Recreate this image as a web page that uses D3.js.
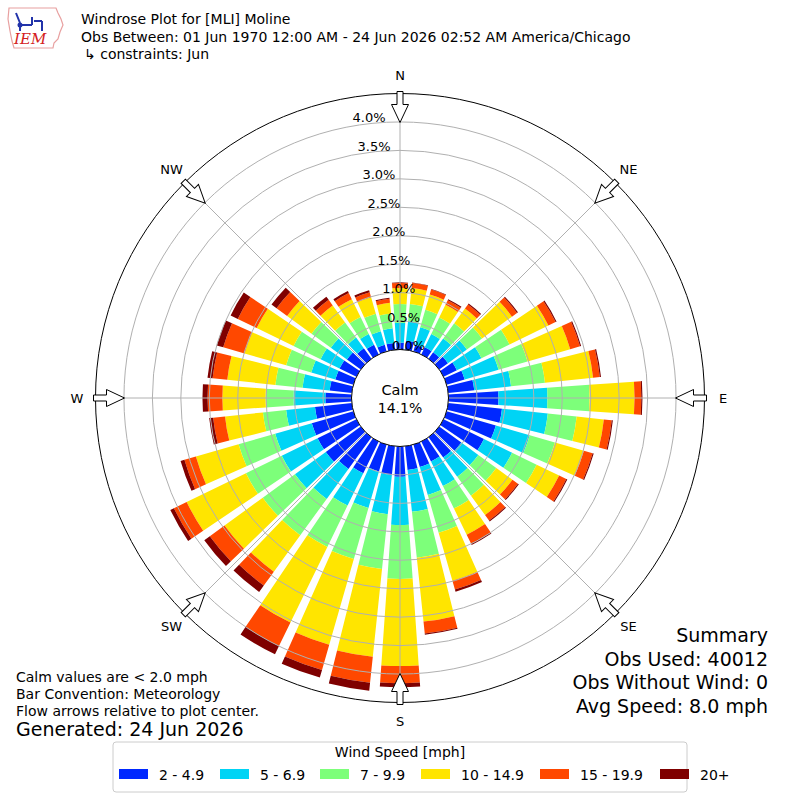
<!DOCTYPE html>
<html>
<head>
<meta charset="utf-8">
<script src="https://cdn.jsdelivr.net/npm/d3@7"></script>
<style>
  body { margin: 0; background: #fff; }
  text { font-family: "DejaVu Sans", sans-serif; fill: #000; }
</style>
</head>
<body>
<div id="rose"></div>
<script>
// wind directions (deg, where the wind comes from)
const directions = [0, 10, 20, 30, 40, 50, 60, 70, 80, 90, 100, 110, 120, 130, 140, 150, 160, 170,
  180, 190, 200, 210, 220, 230, 240, 250, 260, 270, 280, 290, 300, 310, 320, 330, 340, 350];

const speedBins = ["2 - 4.9", "5 - 6.9", "7 - 9.9", "10 - 14.9", "15 - 19.9", "20+"];
const binColors = ["#0028ff", "#00d4f5", "#7dff7a", "#ffe500", "#ff4800", "#7f0000"];

// frequency (%) per direction for each speed bin
const bin2to5 = [0.12, 0.16, 0.12, 0.14, 0.14, 0.19, 0.26, 0.33, 0.46, 0.88, 0.95, 0.90, 0.79, 0.48, 0.44, 0.39, 0.41, 0.42,
  0.53, 0.51, 0.49, 0.62, 0.69, 0.76, 0.76, 0.76, 0.65, 0.46, 0.39, 0.33, 0.33, 0.30, 0.23, 0.19, 0.12, 0.12];
const bin5to7 = [0.35, 0.35, 0.32, 0.26, 0.30, 0.41, 0.48, 0.62, 0.65, 0.86, 0.81, 0.62, 0.55, 0.37, 0.42, 0.48, 0.51, 0.74,
  0.85, 0.69, 0.67, 0.63, 0.65, 0.67, 0.70, 0.67, 0.51, 0.56, 0.48, 0.44, 0.37, 0.35, 0.23, 0.21, 0.25, 0.26];
const bin7to10 = [0.33, 0.30, 0.32, 0.32, 0.33, 0.33, 0.55, 0.53, 0.60, 0.74, 0.51, 0.46, 0.48, 0.39, 0.41, 0.44, 0.69, 0.81,
  0.95, 0.97, 0.93, 0.81, 0.79, 0.70, 0.70, 0.67, 0.41, 0.49, 0.48, 0.46, 0.53, 0.42, 0.33, 0.33, 0.32, 0.26];
const bin10to15 = [0.28, 0.28, 0.28, 0.25, 0.32, 0.65, 0.76, 0.78, 0.85, 0.79, 0.48, 0.53, 0.44, 0.35, 0.42, 0.51, 0.88, 1.13,
  1.53, 1.55, 1.57, 1.48, 0.79, 0.83, 1.16, 0.78, 0.67, 0.76, 0.85, 0.76, 0.72, 0.53, 0.37, 0.35, 0.30, 0.19];
const bin15to20 = [0.09, 0.09, 0.09, 0.09, 0.09, 0.11, 0.14, 0.18, 0.12, 0.12, 0.14, 0.16, 0.14, 0.12, 0.12, 0.18, 0.16, 0.21,
  0.30, 0.46, 0.46, 0.46, 0.30, 0.32, 0.25, 0.21, 0.21, 0.26, 0.26, 0.39, 0.37, 0.23, 0.12, 0.12, 0.09, 0.07];
const bin20plus = [0.01, 0.01, 0.01, 0.02, 0.02, 0.02, 0.02, 0.02, 0.02, 0.02, 0.02, 0.02, 0.02, 0.02, 0.02, 0.02, 0.04, 0.02,
  0.07, 0.14, 0.14, 0.16, 0.14, 0.12, 0.07, 0.07, 0.07, 0.09, 0.09, 0.12, 0.14, 0.11, 0.07, 0.04, 0.04, 0.02];

const ringTicks = [0, 0.5, 1, 1.5, 2, 2.5, 3, 3.5, 4];
const compass = ["N", "NE", "E", "SE", "S", "SW", "W", "NW"];
const calmPct = "14.1%";

const titleLines = ["Windrose Plot for [MLI] Moline",
  "Obs Between: 01 Jun 1970 12:00 AM - 24 Jun 2026 02:52 AM America/Chicago"];
const constraintLine = "\u21b3 constraints: Jun";
const noteLines = ["Calm values are < 2.0 mph", "Bar Convention: Meteorology", "Flow arrows relative to plot center."];
const generatedLine = "Generated: 24 Jun 2026";
const summaryLines = ["Summary", "Obs Used: 40012", "Obs Without Wind: 0", "Avg Speed: 8.0 mph"];

const width = 800, height = 800;
const cx = 400, cy = 398;
const calmR = 48.5, outerR = 304.5;

const svg = d3.select("#rose")
  .append("svg")
  .attr("width", width)
  .attr("height", height);

// scales
const rScale = d3.scaleLinear().domain([0, 4.5]).range([calmR, outerR]);
const aScale = d3.scaleLinear().domain([0, 360]).range([0, 2 * Math.PI]);
const color = d3.scaleOrdinal().domain(speedBins).range(binColors);

// build rows for stacking
const series = [bin2to5, bin5to7, bin7to10, bin10to15, bin15to20, bin20plus];
const rows = directions.map((dir, i) => {
  const row = {dir: dir};
  speedBins.forEach((b, j) => { row[b] = series[j][i]; });
  return row;
});
const stacked = d3.stack().keys(speedBins)(rows);

const rose = svg.append("g").attr("transform", `translate(${cx},${cy})`);

const halfWidth = 4; // degrees, bar opening 0.8 of a 10 deg sector
const arc = d3.arc()
  .innerRadius(d => rScale(d[0]))
  .outerRadius(d => rScale(d[1]))
  .startAngle(d => aScale(d.data.dir - halfWidth))
  .endAngle(d => aScale(d.data.dir + halfWidth));

// bars
rose.selectAll("g.layer")
  .data(stacked)
  .enter()
  .append("g")
  .attr("class", "layer")
  .attr("fill", d => color(d.key))
  .selectAll("path")
  .data(d => d)
  .enter()
  .append("path")
  .attr("d", arc);

// grid rings
rose.selectAll("circle.ring")
  .data(ringTicks.filter(t => t > 0))
  .enter()
  .append("circle")
  .attr("class", "ring")
  .attr("r", d => rScale(d))
  .attr("fill", "none")
  .attr("stroke", "#b0b0b0")
  .attr("stroke-width", 1);

// radial grid lines every 45 deg
rose.selectAll("line.spoke")
  .data(compass.map((c, i) => i * 45))
  .enter()
  .append("line")
  .attr("class", "spoke")
  .attr("x1", d => calmR * Math.sin(aScale(d)))
  .attr("y1", d => -calmR * Math.cos(aScale(d)))
  .attr("x2", d => outerR * Math.sin(aScale(d)))
  .attr("y2", d => -outerR * Math.cos(aScale(d)))
  .attr("stroke", "#b0b0b0")
  .attr("stroke-width", 1);

// outer frame
rose.append("circle")
  .attr("r", outerR)
  .attr("fill", "none")
  .attr("stroke", "#000")
  .attr("stroke-width", 1);

// calm circle
rose.append("circle")
  .attr("r", calmR)
  .attr("fill", "#fff")
  .attr("stroke", "#000")
  .attr("stroke-width", 1);

rose.append("text")
  .attr("x", 0).attr("y", -8)
  .attr("text-anchor", "middle")
  .attr("dominant-baseline", "central")
  .style("font-size", "14.5px")
  .text("Calm");
rose.append("text")
  .attr("x", 0).attr("y", 10)
  .attr("text-anchor", "middle")
  .attr("dominant-baseline", "central")
  .style("font-size", "14px")
  .text(calmPct);

// ring labels
rose.selectAll("text.rlabel")
  .data(ringTicks)
  .enter()
  .append("text")
  .attr("class", "rlabel")
  .attr("x", d => 17 - 0.1736 * rScale(d))
  .attr("y", d => -4 - rScale(d))
  .attr("text-anchor", "middle")
  .attr("dominant-baseline", "central")
  .style("font-size", "13px")
  .text(d => d.toFixed(1) + "%");

// flow arrows on the frame, pointing toward the centre
const arrowPath = d3.line()([
  [-3, -outerR - 2], [3, -outerR - 2], [3, -outerR + 11], [8.5, -outerR + 11],
  [0, -outerR + 29], [-8.5, -outerR + 11], [-3, -outerR + 11]
]) + "Z";
rose.selectAll("path.arrow")
  .data(compass.map((c, i) => i * 45))
  .enter()
  .append("path")
  .attr("class", "arrow")
  .attr("d", arrowPath)
  .attr("transform", d => `rotate(${d})`)
  .attr("fill", "#fff")
  .attr("stroke", "#000")
  .attr("stroke-width", 1);

// compass labels
const labelR = 323;
rose.selectAll("text.compass")
  .data(compass)
  .enter()
  .append("text")
  .attr("class", "compass")
  .attr("x", (d, i) => labelR * Math.sin(aScale(i * 45)))
  .attr("y", (d, i) => -labelR * Math.cos(aScale(i * 45)))
  .attr("text-anchor", "middle")
  .attr("dominant-baseline", "central")
  .style("font-size", "13px")
  .text(d => d);

// header
const logo = svg.append("g").attr("transform", "translate(6,5)");
logo.append("path")
  .attr("d", "M3,3 L50,3 L52,8 L55,14 L57,20 L54,27 L52,34 L48,38 L47,43 L8,43 L6,36 L4,26 L2,14 Z")
  .attr("fill", "none")
  .attr("stroke", "#e8a0a0")
  .attr("stroke-width", 1.2);
logo.append("path")
  .attr("d", "M14,20 L26,20 M26,20 L26,12 M28,16 L36,16 M36,16 L36,26 M14,20 L14,26 M10,8 L14,18")
  .attr("fill", "none")
  .attr("stroke", "#2233aa")
  .attr("stroke-width", 2);
logo.append("circle").attr("cx", 14).attr("cy", 20).attr("r", 2.5).attr("fill", "#2233aa");
logo.append("text")
  .attr("x", 8).attr("y", 39)
  .style("font-family", "'DejaVu Serif', serif")
  .style("font-style", "italic")
  .style("font-size", "15px")
  .style("fill", "#d42020")
  .text("IEM");

svg.selectAll("text.title")
  .data(titleLines)
  .enter()
  .append("text")
  .attr("class", "title")
  .attr("x", 81)
  .attr("y", (d, i) => 24 + i * 18)
  .style("font-size", "14px")
  .text(d => d);
svg.append("text")
  .attr("x", 84).attr("y", 59)
  .style("font-size", "14px")
  .text(constraintLine);

// footnotes
svg.selectAll("text.note")
  .data(noteLines)
  .enter()
  .append("text")
  .attr("class", "note")
  .attr("x", 16)
  .attr("y", (d, i) => 682 + i * 17)
  .style("font-size", "14px")
  .text(d => d);
svg.append("text")
  .attr("x", 16).attr("y", 736)
  .style("font-size", "19px")
  .text(generatedLine);

svg.selectAll("text.summary")
  .data(summaryLines)
  .enter()
  .append("text")
  .attr("class", "summary")
  .attr("x", 768)
  .attr("y", (d, i) => 642 + i * 23.5)
  .attr("text-anchor", "end")
  .style("font-size", "19px")
  .text(d => d);

// legend
const legend = svg.append("g").attr("transform", "translate(113,742)");
legend.append("rect")
  .attr("width", 574).attr("height", 50)
  .attr("rx", 3)
  .attr("fill", "#fff")
  .attr("stroke", "#cccccc");
legend.append("text")
  .attr("x", 287).attr("y", 15)
  .attr("text-anchor", "middle")
  .style("font-size", "14px")
  .text("Wind Speed [mph]");
const itemX = [6, 107, 207, 308, 427, 547];
speedBins.forEach((b, i) => {
  const g = legend.append("g").attr("transform", `translate(${itemX[i]},27)`);
  g.append("rect")
    .attr("width", 29).attr("height", 10)
    .attr("fill", color(b));
  g.append("text")
    .attr("x", 40).attr("y", 10.5)
    .style("font-size", "14px")
    .text(b);
});
</script>
</body>
</html>
